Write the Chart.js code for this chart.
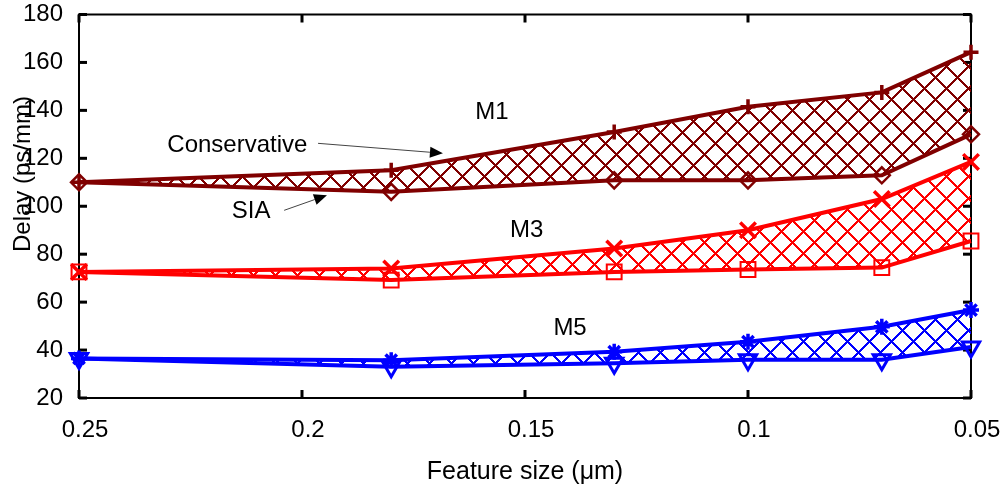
<!DOCTYPE html>
<html><head><meta charset="utf-8">
<script src="https://cdn.jsdelivr.net/npm/chart.js@4.4.1/dist/chart.umd.min.js"></script>
<style>html,body{margin:0;background:#fff}#wrap{width:1005px;height:487px;position:relative}</style>
</head><body><div id="wrap"><canvas id="c"></canvas></div>
<script>
// interconnect delay vs feature size, conservative vs SIA per metal layer
const feature = [0.25, 0.18, 0.13, 0.10, 0.07, 0.05];
const m1Cons = [110, 115, 131, 141.5, 147.5, 164.3];
const m1Sia  = [110, 106, 110.8, 110.8, 112.9, 130];
const m3Cons = [72.6, 74, 82.4, 90, 103, 118.5];
const m3Sia  = [72.6, 69.2, 72.6, 73.6, 74.4, 85.5];
const m5Cons = [36.5, 35.8, 39.3, 43.5, 49.7, 56.7];
const m5Sia  = [36.5, 33, 34.5, 36, 36, 41.3];
const xTicks = [0.25, 0.2, 0.15, 0.1, 0.05];
const yTicks = [20, 40, 60, 80, 100, 120, 140, 160, 180];

const FONT = '"Liberation Sans", Arial, sans-serif';
Chart.defaults.font.family = FONT;
Chart.defaults.color = "#000";

function hatch(color) {
  const n = 22, c = document.createElement("canvas");
  c.width = c.height = n;
  const g = c.getContext("2d");
  g.fillStyle = color;
  for (let i = 0; i < n; i++) { g.fillRect(i, i, 2, 2); g.fillRect(n - 1 - i, i, 2, 2); }
  return g.createPattern(c, "repeat");
}

const ds = (label, data, color, style, r, pw, fill, rot) => ({
  label, data: feature.map((x, i) => ({ x, y: data[i] })),
  borderColor: color, backgroundColor: fill ? hatch(color) : color, fill: fill ? "-1" : false,
  borderWidth: 4, pointStyle: style, pointRadius: r, pointHoverRadius: r, pointBorderWidth: pw,
  pointBackgroundColor: "rgba(0,0,0,0)", pointBorderColor: color, pointRotation: rot || 0,
  clip: false, tension: 0,
});

const notes = [
  { text: "M1", x: 0.1574, y: 136.3 },
  { text: "Conservative", x: 0.2145, y: 122.5 },
  { text: "SIA", x: 0.2114, y: 95 },
  { text: "M3", x: 0.1496, y: 87.2 },
  { text: "M5", x: 0.1399, y: 46.25 },
];
const arrows = [
  { from: [0.1964, 126.25], to: [0.1684, 122.1] },
  { from: [0.204, 98.3], to: [0.1944, 104.6] },
];

const frame = {
  id: "frame",
  beforeDatasetsDraw(ch) {
    const { ctx, chartArea: a, scales: { x, y } } = ch;
    ctx.save();
    ctx.strokeStyle = "#000"; ctx.lineWidth = 2;
    ctx.strokeRect(a.left, a.top, a.right - a.left, a.bottom - a.top);
    ctx.fillStyle = "#000";
    yTicks.forEach(v => { const p = y.getPixelForValue(v); ctx.fillRect(a.left, p - 1.5, 8, 3); ctx.fillRect(a.right - 8, p - 1.5, 8, 3); });
    xTicks.forEach(v => { const p = x.getPixelForValue(v); ctx.fillRect(p - 1.5, a.bottom - 8, 3, 8); ctx.fillRect(p - 1.5, a.top, 3, 8); });
    ctx.restore();
  },
  afterDatasetsDraw(ch) {
    const { ctx, scales: { x, y } } = ch;
    ctx.save();
    ctx.fillStyle = "#000"; ctx.font = "24px " + FONT;
    ctx.textAlign = "center"; ctx.textBaseline = "alphabetic";
    notes.forEach(n => ctx.fillText(n.text, x.getPixelForValue(n.x), y.getPixelForValue(n.y)));
    arrows.forEach(ar => {
      const x0 = x.getPixelForValue(ar.from[0]), y0 = y.getPixelForValue(ar.from[1]);
      const x1 = x.getPixelForValue(ar.to[0]), y1 = y.getPixelForValue(ar.to[1]);
      const ang = Math.atan2(y1 - y0, x1 - x0), L = 13, W = 5.5;
      const bx = x1 - L * Math.cos(ang), by = y1 - L * Math.sin(ang);
      ctx.strokeStyle = "#444"; ctx.lineWidth = 1;
      ctx.beginPath(); ctx.moveTo(x0, y0); ctx.lineTo(bx, by); ctx.stroke();
      ctx.beginPath(); ctx.moveTo(x1, y1);
      ctx.lineTo(bx - W * Math.sin(ang), by + W * Math.cos(ang));
      ctx.lineTo(bx + W * Math.sin(ang), by - W * Math.cos(ang));
      ctx.closePath(); ctx.fill();
    });
    // y axis title
    ctx.translate(23, 174); ctx.rotate(-Math.PI / 2);
    ctx.textBaseline = "middle"; ctx.font = "24px " + FONT;
    ctx.fillText("Delay (ps/mm)", 0, 0);
    ctx.restore();
  },
};

new Chart(document.getElementById("c"), {
  type: "line",
  data: {
    datasets: [
      ds("M1 SIA", m1Sia, "#800000", "rectRot", 8, 2.5, false),
      ds("M1 Conservative", m1Cons, "#800000", "cross", 7.5, 3.5, true),
      ds("M3 SIA", m3Sia, "#ff0000", "rect", 10.5, 2, false),
      ds("M3 Conservative", m3Cons, "#ff0000", "crossRot", 11, 3.5, true),
      ds("M5 SIA", m5Sia, "#0000ff", "triangle", 10, 3, false, 180),
      ds("M5 Conservative", m5Cons, "#0000ff", "star", 8, 3.5, true),
    ],
  },
  options: {
    responsive: true, maintainAspectRatio: false, animation: false,
    layout: { padding: { top: 14, right: 34, left: 0, bottom: 0 } },
    plugins: { legend: { display: false }, tooltip: { enabled: false } },
    scales: {
      x: {
        type: "linear", reverse: true, min: 0.05, max: 0.25,
        afterBuildTicks: s => { s.ticks = xTicks.map(v => ({ value: v })); },
        afterFit: s => { s.height = 89; s.paddingLeft = 0; s.paddingRight = 0; },
        grid: { display: false, drawTicks: false }, border: { display: false },
        ticks: { padding: 18, labelOffset: 6, font: { size: 24 }, callback: v => String(+v.toFixed(2)) },
        title: { display: true, text: "Feature size (\u03bcm)", font: { size: 25 }, padding: { top: 0, bottom: 0 } },
      },
      y: {
        min: 20, max: 180,
        afterBuildTicks: s => { s.ticks = yTicks.map(v => ({ value: v })); },
        afterFit: s => { s.width = 79; s.paddingTop = 0; s.paddingBottom = 0; },
        grid: { display: false, drawTicks: false }, border: { display: false },
        ticks: { padding: 16, font: { size: 24 } },
      },
    },
  },
  plugins: [frame],
});
</script>
</body></html>
